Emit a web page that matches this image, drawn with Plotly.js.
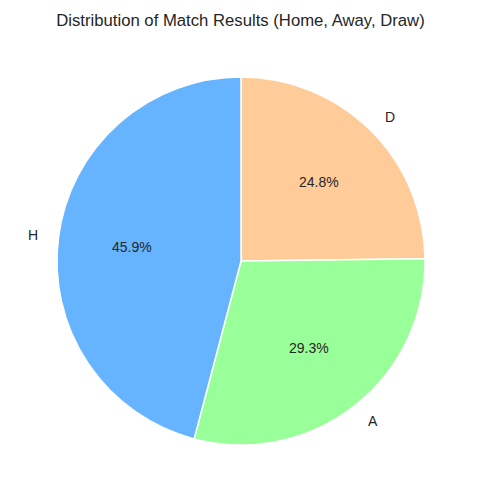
<!DOCTYPE html>
<html>
<head>
<meta charset="utf-8">
<script src="https://cdn.plot.ly/plotly-3.0.1.min.js"></script>
<style>
  html, body { margin: 0; padding: 0; background: #fff; }
  #chart { width: 481px; height: 502px; }
</style>
</head>
<body>
<div id="chart"></div>
<script>
// match results share (%)
var resultLabels = ['H', 'A', 'D'];
var resultShares = [45.9, 29.3, 24.8];
var sliceColors = ['#66b3ff', '#99ff99', '#ffcc99'];

var W = 481, H = 502;
var centerPx = [241, 261], radiusPx = 184;
var pieDomain = {
    x: [(centerPx[0] - radiusPx) / W, (centerPx[0] + radiusPx) / W],
    y: [1 - (centerPx[1] + radiusPx) / H, 1 - (centerPx[1] - radiusPx) / H]
};

// plotly v3 clockwise from 12 o'clock; reversed order gives H, A, D counterclockwise from the top
var slices = {
    type: 'pie',
    labels: resultLabels.slice().reverse(),
    values: resultShares.slice().reverse(),
    sort: false,
    direction: 'clockwise',
    rotation: 0,
    domain: pieDomain,
    marker: { colors: sliceColors.slice().reverse(), line: { color: '#ffffff', width: 1.5 } },
    textinfo: 'none',
    hoverinfo: 'label+percent',
    showlegend: false
};

// labels at 1.1 r and percentages at 0.6 r, like matplotlib
var total = resultShares.reduce(function (a, b) { return a + b; }, 0);
var annotations = [];
var cum = 0;
for (var i = 0; i < resultShares.length; i++) {
    var mid = (cum + resultShares[i] / 2) / total;
    cum += resultShares[i];
    var ang = Math.PI / 2 + mid * 2 * Math.PI;
    var c = Math.cos(ang), s = Math.sin(ang);
    annotations.push({
        xref: 'paper', yref: 'paper',
        x: (centerPx[0] + 1.1 * radiusPx * c) / W,
        y: 1 - (centerPx[1] - 1.1 * radiusPx * s) / H,
        xanchor: c < 0 ? 'right' : 'left', yanchor: 'middle',
        text: resultLabels[i], showarrow: false,
        font: { family: 'Liberation Sans', size: 14, color: '#262626' }
    });
    annotations.push({
        xref: 'paper', yref: 'paper',
        x: (centerPx[0] + 0.6 * radiusPx * c) / W,
        y: 1 - (centerPx[1] - 0.6 * radiusPx * s) / H,
        xanchor: 'center', yanchor: 'middle',
        text: (resultShares[i] / total * 100).toFixed(1) + '%', showarrow: false,
        font: { family: 'Liberation Sans', size: 14, color: '#262626' }
    });
}

var layout = {
    width: W,
    height: H,
    margin: { l: 0, r: 0, t: 0, b: 0 },
    paper_bgcolor: '#ffffff',
    annotations: annotations,
    title: {
        text: 'Distribution of Match Results (Home, Away, Draw)',
        font: { family: 'Liberation Sans', size: 16.7, color: '#262626' },
        x: 0.5, xanchor: 'center',
        y: 1 - 20 / H, yanchor: 'middle'
    }
};

Plotly.newPlot('chart', [slices], layout, { displayModeBar: false, staticPlot: true });
</script>
</body>
</html>
